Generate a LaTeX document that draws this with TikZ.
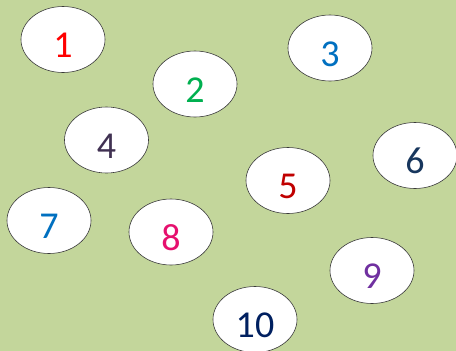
\documentclass[tikz,border=0pt]{standalone}
\usepackage{fontspec}
\setmainfont{Carlito}
\usepackage{xcolor}
\usepackage{tikz}
\usetikzlibrary{shapes.geometric}

\definecolor{meadow}{HTML}{C3D69B}
\definecolor{rimgray}{HTML}{3A3A3A}
\definecolor{nred}{HTML}{FF0000}
\definecolor{ngreen}{HTML}{00B050}
\definecolor{nblue}{HTML}{0070C0}
\definecolor{nplum}{HTML}{403152}
\definecolor{ndarkred}{HTML}{C00000}
\definecolor{nnavy}{HTML}{17365D}
\definecolor{npink}{HTML}{E6106E}
\definecolor{npurple}{HTML}{7030A0}
\definecolor{ndeep}{HTML}{002060}

\begin{document}
\begin{tikzpicture}[x=1pt, y=-1pt,
  bubble/.style={ellipse, draw=rimgray, line width=0.6pt, fill=white,
    minimum width=84pt, minimum height=66pt, inner sep=0pt,
    font=\fontsize{38}{40}\selectfont, text height=36pt, text depth=0pt}]
% background
\fill[meadow] (0,0) rectangle (456,351);
\useasboundingbox (0,0) rectangle (456,351);
% numbered bubbles
\foreach \n/\x/\y/\c in {1/63/39.5/nred, 2/195/84/ngreen, 3/330/48/nblue,
    4/106.5/140/nplum, 5/288/180.5/ndarkred, 6/415/155.5/nnavy,
    7/49/220.5/nblue, 8/171/232/npink, 9/372/270.5/npurple, 10/255/319.5/ndeep} {
  \node[bubble, text=\c] (b\n) at (\x,\y) {\n};
}
\end{tikzpicture}
\end{document}
